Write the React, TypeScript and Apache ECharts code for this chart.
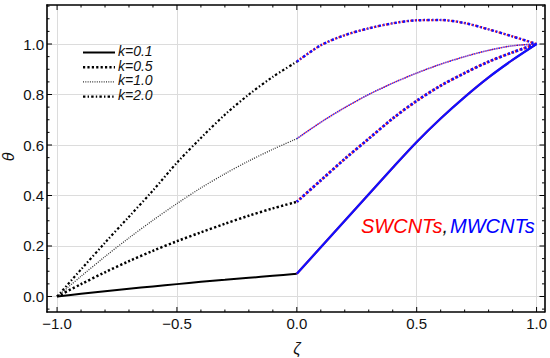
import React, { useEffect, useRef } from "react";
import * as echarts from "echarts";

// ---- data ----
const zetaLeft = [-1, -0.9, -0.8, -0.7, -0.6, -0.5, -0.4, -0.3, -0.2, -0.1, 0];
const zetaRight = [0, 0.1, 0.2, 0.3, 0.4, 0.5, 0.6, 0.7, 0.8, 0.9, 1];
const kLabels = ["k=0.1", "k=0.5", "k=1.0", "k=2.0"];

const thetaLeftK01 = [0, 0.0105, 0.021, 0.031, 0.04, 0.049, 0.058, 0.066, 0.074, 0.082, 0.09];
const thetaLeftK05 = [0, 0.049, 0.096, 0.14, 0.181, 0.219, 0.254, 0.288, 0.32, 0.349, 0.375];
const thetaLeftK10 = [0, 0.08, 0.158, 0.232, 0.302, 0.368, 0.43, 0.486, 0.537, 0.583, 0.625];
const thetaLeftK20 = [0, 0.107, 0.213, 0.316, 0.42, 0.53, 0.628, 0.72, 0.8, 0.87, 0.93];

const thetaRightK01 = [0.09, 0.195, 0.3, 0.405, 0.51, 0.612, 0.705, 0.79, 0.868, 0.937, 1.0];
const thetaRightK05 = [0.375, 0.46, 0.545, 0.625, 0.705, 0.775, 0.835, 0.885, 0.93, 0.967, 1.0];
const thetaRightK10 = [0.625, 0.69, 0.748, 0.8, 0.845, 0.885, 0.92, 0.95, 0.975, 0.993, 1.0];
const thetaRightK20 = [0.93, 0.995, 1.035, 1.062, 1.082, 1.094, 1.095, 1.083, 1.058, 1.03, 1.0];

// tick values
const xMajorTicks = [-1, -0.5, 0, 0.5, 1];
const xMinorTicks = [-0.9, -0.8, -0.7, -0.6, -0.4, -0.3, -0.2, -0.1, 0.1, 0.2, 0.3, 0.4, 0.6, 0.7, 0.8, 0.9];
const yMajorTicks = [0, 0.2, 0.4, 0.6, 0.8, 1.0];
const yMinorTicks = [-0.05, 0.05, 0.1, 0.15, 0.25, 0.3, 0.35, 0.45, 0.5, 0.55, 0.65, 0.7, 0.75, 0.85, 0.9, 0.95, 1.05, 1.1, 1.15];

const leftSets = [thetaLeftK01, thetaLeftK05, thetaLeftK10, thetaLeftK20];
const rightSets = [thetaRightK01, thetaRightK05, thetaRightK10, thetaRightK20];

// frame extents (plot range incl. padding)
const X_MIN = -1.042;
const X_MAX = 1.033;
const Y_MIN = -0.0614;
const Y_MAX = 1.1545;

// line styles per k
const styles = [
  { type: "solid" as any, width: 2, dash: null as number[] | null },
  { type: [2.2, 2.2], width: 2.5, dash: [2.2, 2.2] },
  { type: [1, 1.3], width: 1.3, dash: [1, 1.3] },
  { type: [2.4, 2.2, 1.4, 2.2], width: 2.2, dash: [2.4, 2.2, 1.4, 2.2] },
];

const FONT = "'Liberation Sans', Arial, sans-serif";

function pairs(xs: number[], ys: number[]) {
  return xs.map((x, i) => [x, ys[i]]);
}

export default function App() {
  const ref = useRef<HTMLDivElement>(null);
  useEffect(() => {
    if (!ref.current) return;
    const chart = echarts.init(ref.current, undefined, { renderer: "svg" });

    const series: any[] = [];
    kLabels.forEach((k, i) => {
      const st = styles[i];
      series.push({
        name: k + " left",
        type: "line",
        data: pairs(zetaLeft, leftSets[i]),
        smooth: 0.3,
        symbol: "none",
        silent: true,
        lineStyle: { color: i === 2 ? "#333" : "#000", width: st.width, type: st.type, cap: "butt" },
        z: 3,
      });
      series.push({
        name: k + " SWCNT",
        type: "line",
        data: pairs(zetaRight, rightSets[i]),
        smooth: 0.3,
        symbol: "none",
        silent: true,
        lineStyle: { color: "#ff1a1a", width: st.width, type: st.type, dashOffset: 1, cap: "butt" },
        z: 3,
      });
      series.push({
        name: k + " MWCNT",
        type: "line",
        data: pairs(zetaRight, rightSets[i]),
        smooth: 0.3,
        symbol: "none",
        silent: true,
        lineStyle: { color: "#1010ff", width: st.width + 0.3, type: st.type, cap: "butt" },
        z: 4,
      });
    });

    // frame ticks (inside, on all four sides) via custom series
    const tickSeries = (vals: number[], len: number, isX: boolean) => ({
      type: "custom",
      coordinateSystem: "cartesian2d",
      silent: true,
      clip: false,
      z: 6,
      data: vals.map((v) => (isX ? [v, Y_MIN] : [X_MIN, v])),
      renderItem: (params: any, api: any) => {
        if (isX) {
          const v = api.value(0);
          const p = api.coord([v, Y_MIN]);
          const q = api.coord([v, Y_MAX]);
          return {
            type: "group",
            children: [
              { type: "line", shape: { x1: p[0], y1: p[1], x2: p[0], y2: p[1] - len }, style: { stroke: "#000", lineWidth: 1 } },
              { type: "line", shape: { x1: q[0], y1: q[1], x2: q[0], y2: q[1] + len }, style: { stroke: "#000", lineWidth: 1 } },
            ],
          };
        }
        const v = api.value(1);
        const p = api.coord([X_MIN, v]);
        const q = api.coord([X_MAX, v]);
        return {
          type: "group",
          children: [
            { type: "line", shape: { x1: p[0], y1: p[1], x2: p[0] + len, y2: p[1] }, style: { stroke: "#000", lineWidth: 1 } },
            { type: "line", shape: { x1: q[0], y1: q[1], x2: q[0] - len, y2: q[1] }, style: { stroke: "#000", lineWidth: 1 } },
          ],
        };
      },
    });
    series.push(tickSeries(xMajorTicks, 5, true));
    series.push(tickSeries(xMinorTicks, 2.5, true));
    series.push(tickSeries(yMajorTicks, 5, false));
    series.push(tickSeries(yMinorTicks, 2.5, false));

    const fmt = (v: number) => (v < 0 ? "\u2212" + Math.abs(v).toFixed(1) : v.toFixed(1));

    const frameLine = { show: true, onZero: false, lineStyle: { color: "#000", width: 1.6 } };

    // legend graphics
    const legendGraphics: any[] = [];
    const rowsY = [51, 65.7, 80.4, 95.1];
    kLabels.forEach((k, i) => {
      const st = styles[i];
      legendGraphics.push({
        type: "line",
        shape: { x1: 83, y1: rowsY[i] + 1.5, x2: 115, y2: rowsY[i] + 1.5 },
        style: {
          stroke: i === 2 ? "#333" : "#000",
          lineWidth: st.width,
          lineDash: st.dash || undefined,
        },
        z: 10,
      });
      legendGraphics.push({
        type: "text",
        x: 118,
        y: rowsY[i],
        style: {
          text: k,
          font: "italic 14px " + FONT,
          fill: "#111",
          verticalAlign: "middle",
          textAlign: "left",
        },
        z: 10,
      });
    });

    const option: any = {
      animation: false,
      textStyle: { fontFamily: FONT },
      grid: { left: 47, right: 5, top: 5, bottom: 46, containLabel: false },
      xAxis: [
        {
          type: "value",
          position: "bottom",
          min: X_MIN,
          max: X_MAX,
          axisLine: frameLine,
          axisTick: { show: false, customValues: xMajorTicks },
          minorTick: { show: false },
          splitLine: { show: true, lineStyle: { color: "#dcdcdc", width: 1 } },
          axisLabel: { show: true, margin: 4, fontSize: 15, color: "#111", customValues: xMajorTicks, formatter: fmt },
        },
        {
          type: "value",
          position: "top",
          min: X_MIN,
          max: X_MAX,
          axisLine: frameLine,
          axisTick: { show: false },
          minorTick: { show: false },
          splitLine: { show: false },
          axisLabel: { show: false },
        },
      ],
      yAxis: [
        {
          type: "value",
          position: "left",
          min: Y_MIN,
          max: Y_MAX,
          axisLine: frameLine,
          axisTick: { show: false, customValues: yMajorTicks },
          minorTick: { show: false },
          splitLine: { show: true, lineStyle: { color: "#dcdcdc", width: 1 } },
          axisLabel: { show: true, margin: 3, fontSize: 15, color: "#111", customValues: yMajorTicks, formatter: fmt },
        },
        {
          type: "value",
          position: "right",
          min: Y_MIN,
          max: Y_MAX,
          axisLine: frameLine,
          axisTick: { show: false },
          minorTick: { show: false },
          splitLine: { show: false },
          axisLabel: { show: false },
        },
      ],
      graphic: [
        ...legendGraphics,
        {
          type: "text",
          x: 361,
          y: 226,
          style: {
            text: "{a|SWCNTs}{b|,}{c|MWCNTs}",
            font: "italic 20px " + FONT,
            verticalAlign: "middle",
            rich: {
              a: { fill: "#ff0000", font: "italic 20px " + FONT },
              b: { fill: "#111", font: "italic 20px " + FONT, padding: [0, 2, 0, 0] },
              c: { fill: "#0000ff", font: "italic 20px " + FONT },
            },
          },
          z: 10,
        },
        {
          type: "text",
          x: 297,
          y: 348,
          style: {
            text: "\u03b6",
            font: "italic 16px " + FONT,
            fill: "#111",
            textAlign: "center",
            verticalAlign: "middle",
          },
        },
        {
          type: "text",
          x: 8,
          y: 157,
          rotation: Math.PI / 2,
          style: {
            text: "\u03b8",
            font: "italic 16px " + FONT,
            fill: "#111",
            textAlign: "center",
            verticalAlign: "middle",
          },
        },
      ],
      series,
    };

    chart.setOption(option);
    return () => chart.dispose();
  }, []);

  return (
    <div
      ref={ref}
      style={{ position: "fixed", left: 0, top: 0, width: 550, height: 358, background: "#fff" }}
    />
  );
}
